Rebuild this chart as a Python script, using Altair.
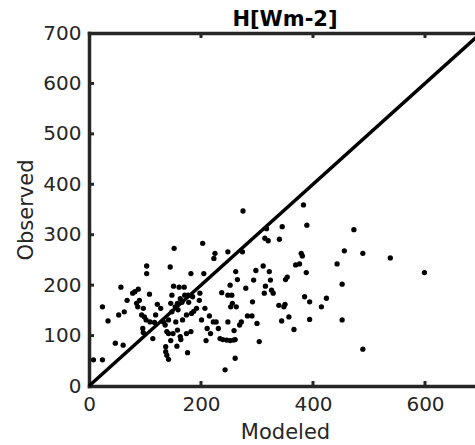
import altair as alt
import pandas as pd

modeled = [8, 24, 24, 34, 47, 61, 53, 57, 63, 68, 78, 82, 88, 85, 90, 87, 94, 97, 99, 96,
           97, 102, 103, 103, 108, 109, 114, 117, 119, 122, 128, 133, 136, 137, 137, 139, 142, 139, 142, 142,
           145, 146, 146, 148, 148, 150, 151, 152, 154, 155, 157, 158, 158, 159, 161, 163, 164, 163, 166, 167,
           170, 171, 174, 174, 176, 177, 178, 182, 182, 183, 185, 187, 192, 197, 198, 201, 203, 205, 207, 209,
           211, 215, 217, 222, 223, 225, 227, 231, 234, 237, 239, 243, 246, 248, 248, 248, 252, 252, 253, 255,
           256, 258, 259, 261, 261, 262, 263, 265, 269, 272, 274, 275, 280, 283, 291, 294, 292, 298, 300, 304,
           311, 313, 314, 315, 317, 320, 322, 324, 326, 329, 339, 340, 345, 344, 348, 350, 351, 354, 357, 366,
           369, 376, 379, 381, 383, 385, 388, 389, 394, 394, 415, 424, 443, 452, 452, 456, 473, 489, 489, 538,
           599]
observed = [52, 52, 157, 129, 85, 81, 141, 196, 147, 170, 184, 187, 192, 164, 170, 157, 141, 154, 137, 114,
            106, 131, 238, 223, 182, 127, 94, 126, 141, 162, 154, 127, 121, 78, 68, 61, 53, 108, 131, 104,
            236, 90, 164, 180, 147, 104, 198, 273, 157, 127, 79, 111, 164, 151, 196, 98, 92, 173, 166, 131,
            196, 180, 104, 141, 66, 180, 166, 223, 108, 144, 177, 148, 154, 170, 184, 131, 283, 223, 154, 90,
            114, 139, 104, 127, 253, 263, 127, 114, 94, 185, 92, 32, 91, 266, 127, 180, 90, 200, 157, 180,
            164, 91, 110, 55, 92, 227, 157, 211, 121, 127, 266, 347, 194, 139, 139, 210, 167, 229, 124, 88,
            238, 184, 293, 198, 312, 288, 227, 210, 190, 184, 160, 291, 316, 129, 157, 162, 211, 216, 137, 112,
            240, 242, 263, 258, 359, 177, 225, 319, 167, 132, 157, 174, 242, 202, 131, 268, 310, 263, 73, 254,
            225]

x_ticks = [0, 200, 400, 600]
y_ticks = [0, 100, 200, 300, 400, 500, 600, 700]
x_inner_ticks = [200, 400, 600]
y_inner_ticks = [100, 200, 300, 400, 500, 600]
line_vals = [0, 700]

TXT = "#262626"
FONT = "DejaVu Sans"

df = pd.DataFrame({"Modeled": modeled, "Observed": observed})
diag = pd.DataFrame({"Modeled": line_vals, "Observed": line_vals})
xt = pd.DataFrame({"Modeled": x_inner_ticks})
yt = pd.DataFrame({"Observed": y_inner_ticks})

xs = alt.Scale(domain=[0, 700], range=[0, 392], nice=False, zero=False)
ys = alt.Scale(domain=[0, 700], nice=False, zero=False)

axis_common = dict(grid=False, ticks=False, domain=True, domainWidth=3.5, domainColor=TXT,
                   domainCap="square", labelFont=FONT, labelFontSize=20, labelColor=TXT,
                   labelFlush=False, titleFont=FONT, titleFontSize=21, titleColor=TXT,
                   titleFontWeight="normal")

points = alt.Chart(df).mark_circle(size=28, color="black", opacity=1).encode(
    x=alt.X("Modeled:Q", scale=xs,
            axis=alt.Axis(values=x_ticks, title="Modeled", orient="bottom",
                          labelPadding=8, titlePadding=7, **axis_common)),
    y=alt.Y("Observed:Q", scale=ys,
            axis=alt.Axis(values=y_ticks, title="Observed", orient="left",
                          labelPadding=8, titlePadding=6, **axis_common)),
)

line = alt.Chart(diag).mark_line(color="black", strokeWidth=3.5, clip=False).encode(
    x=alt.X("Modeled:Q", scale=xs,
            axis=alt.Axis(orient="top", labels=False, title=None, grid=False, ticks=False,
                          domain=True, domainWidth=3.5, domainColor=TXT, domainCap="square")),
    y=alt.Y("Observed:Q", scale=ys, axis=None),
)

bottom_ticks = alt.Chart(xt).mark_rule(color=TXT, strokeWidth=3).encode(
    x=alt.X("Modeled:Q", scale=xs, axis=None),
    y=alt.value(353), y2=alt.value(348),
)
top_ticks = alt.Chart(xt).mark_rule(color=TXT, strokeWidth=3).encode(
    x=alt.X("Modeled:Q", scale=xs, axis=None),
    y=alt.value(0), y2=alt.value(5),
)
left_ticks = alt.Chart(yt).mark_rule(color=TXT, strokeWidth=3).encode(
    y=alt.Y("Observed:Q", scale=ys, axis=None),
    x=alt.value(0), x2=alt.value(5),
)

chart = alt.layer(points, line, bottom_ticks, top_ticks, left_ticks).resolve_axis(
    x="independent", y="independent"
).properties(
    width=386, height=353,
    title=alt.TitleParams("H[Wm-2]", font=FONT, fontSize=21, fontWeight="bold",
                          color="black", offset=-7, dx=3, anchor="middle"),
    autosize=alt.AutoSizeParams(type="none"),
    padding={"left": 89, "top": 33, "right": 0, "bottom": 59},
).configure_view(stroke=None).configure(background="white")

chart.save("out.html", embed_options={"renderer": "svg", "actions": False})
